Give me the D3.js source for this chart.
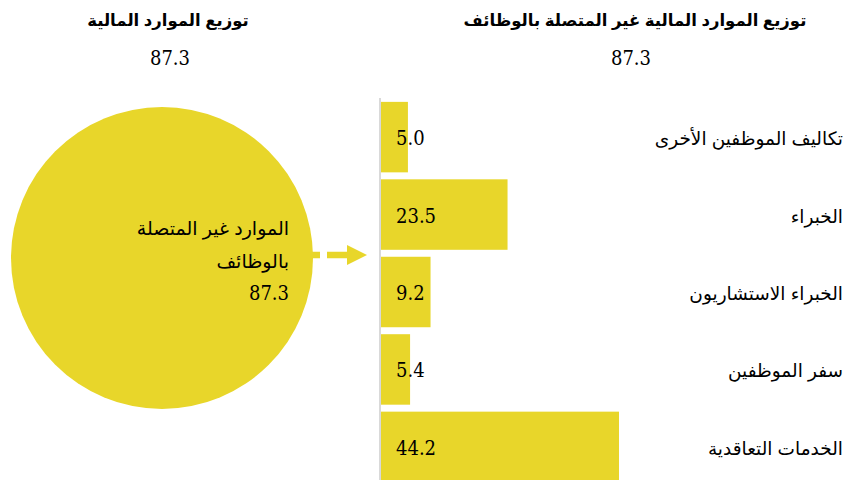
<!DOCTYPE html>
<html lang="en">
<head>
<meta charset="UTF-8">
<title>توزيع الموارد المالية</title>
<script src="https://d3js.org/d3.v7.min.js"></script>
<style>
  body { margin: 0; background: #fff; }
  svg text.num { font-family: "DejaVu Serif Condensed", "DejaVu Serif", serif; font-stretch: condensed; font-size: 20px; }
</style>
</head>
<body>
<div id="chart"></div>
<script>
// data
const leftTitle = "توزيع الموارد المالية";
const rightTitle = "توزيع الموارد المالية غير المتصلة بالوظائف";
const totalValue = 87.3;
const circleLabel = ["الموارد غير المتصلة", "بالوظائف"];
const categories = ["تكاليف الموظفين الأخرى", "الخبراء", "الخبراء الاستشاريون", "سفر الموظفين", "الخدمات التعاقدية"];
const values = [5.0, 23.5, 9.2, 5.4, 44.2];

const width = 847, height = 480;
const yellow = "#e8d62a";
const sans = "'Liberation Sans', Arial, 'DejaVu Sans', sans-serif";

const svg = d3.select("#chart").append("svg")
    .attr("width", width)
    .attr("height", height);

function numText(xp, yp, anchor) {
    return svg.append("text")
        .attr("class", "num")
        .attr("x", xp).attr("y", yp)
        .attr("text-anchor", anchor)
        .attr("direction", "ltr")
        .text(totalValue.toFixed(1));
}

// titles
svg.append("text")
    .attr("x", 168).attr("y", 26)
    .attr("text-anchor", "middle").attr("direction", "rtl")
    .style("font-family", sans).style("font-weight", "bold").style("font-size", "16.5px")
    .text(leftTitle);
numText(170, 65, "middle");

svg.append("text")
    .attr("x", 635).attr("y", 26)
    .attr("text-anchor", "middle").attr("direction", "rtl")
    .style("font-family", sans).style("font-weight", "bold").style("font-size", "16.5px")
    .text(rightTitle);
numText(631, 65, "middle");

// circle for total
svg.append("circle")
    .attr("cx", 162).attr("cy", 258).attr("r", 151)
    .attr("fill", yellow);

circleLabel.forEach((t, i) => {
    svg.append("text")
        .attr("x", 289).attr("y", 235 + i * 33)
        .attr("text-anchor", "start").attr("direction", "rtl")
        .style("font-family", sans).style("font-size", "19px")
        .text(t);
});
numText(289, 300, "end");

// dashed arrow
svg.append("line")
    .attr("x1", 312).attr("x2", 347)
    .attr("y1", 255).attr("y2", 255)
    .attr("stroke", yellow)
    .attr("stroke-width", 6.5)
    .attr("stroke-dasharray", "8,7,20");
svg.append("path")
    .attr("d", "M347,245 L367,255 L347,265 Z")
    .attr("fill", yellow);

// bars
const x = d3.scaleLinear().domain([0, 44.2]).range([381, 619]);
const y = d3.scaleBand()
    .domain(categories)
    .range([98, 486])
    .paddingInner(0.09)
    .paddingOuter(0.05);

svg.selectAll("rect.bar")
    .data(values)
    .enter().append("rect")
    .attr("class", "bar")
    .attr("x", x(0))
    .attr("y", (d, i) => y(categories[i]))
    .attr("width", d => x(d) - x(0))
    .attr("height", y.bandwidth())
    .attr("fill", yellow);

// axis line
svg.append("line")
    .attr("x1", 380).attr("x2", 380)
    .attr("y1", 98).attr("y2", height)
    .attr("stroke", "#d9d9d9")
    .attr("stroke-width", 2);

svg.selectAll("text.val")
    .data(values)
    .enter().append("text")
    .attr("class", "num val")
    .attr("x", 396)
    .attr("y", (d, i) => y(categories[i]) + y.bandwidth() / 2 + 8)
    .text(d => d.toFixed(1));

svg.selectAll("text.catlabel")
    .data(categories)
    .enter().append("text")
    .attr("class", "catlabel")
    .attr("x", 843)
    .attr("y", d => y(d) + y.bandwidth() / 2 + 8)
    .attr("text-anchor", "start").attr("direction", "rtl")
    .style("font-family", sans).style("font-size", "18.5px")
    .text(d => d);
</script>
</body>
</html>
